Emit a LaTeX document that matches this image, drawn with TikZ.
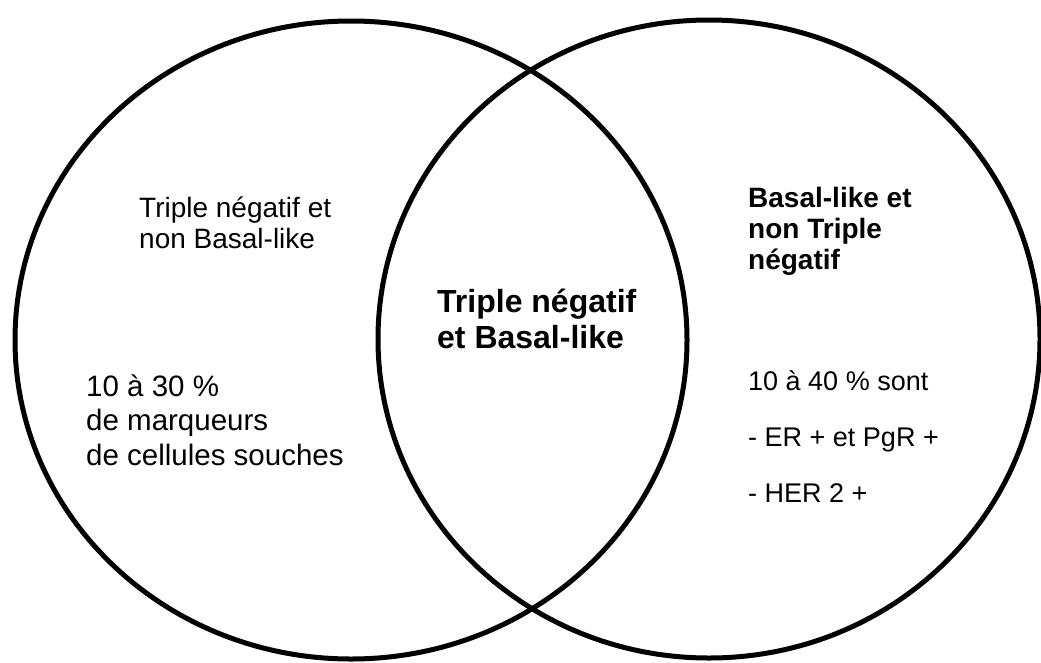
\documentclass[tikz,border=0pt]{standalone}
\usepackage{fontspec}
\setmainfont{Liberation Sans}
\usetikzlibrary{shapes.geometric}
\begin{document}
\begin{tikzpicture}[x=1pt,y=-1pt,
  setellipse/.style={draw=black, line width=5pt, ellipse, inner sep=0pt},
  lbl/.style={anchor=base west, inner sep=0pt, align=left, text=black},
  regtxt/.style={lbl, font=\fontsize{28}{30.5}\selectfont},
  boldtxt/.style={lbl, font=\bfseries\fontsize{28}{31}\selectfont},
  bigtxt/.style={lbl, font=\bfseries\fontsize{32}{36}\selectfont}]
\useasboundingbox (0,0) rectangle (1041,662);
\node[setellipse, minimum width=672pt, minimum height=638pt] (left) at (351,340) {};
\node[setellipse, minimum width=662pt, minimum height=638pt] (right) at (709,339) {};
% base anchor = baseline of the last line
\node[regtxt] (lt) at (139,248) {Triple négatif et\\non Basal-like};
\node[regtxt, font=\fontsize{29.5}{34.5}\selectfont] (lb) at (86,465) {10 à 30 \%\\de marqueurs\\de cellules souches};
\node[bigtxt] (mid) at (437,348) {Triple négatif\\et Basal-like};
\node[boldtxt] (rt) at (748,269) {Basal-like et\\non Triple\\négatif};
\node[regtxt, font=\fontsize{27}{56}\selectfont] (rb) at (748,502) {10 à 40 \% sont\\- ER + et PgR +\\- HER 2 +};
\end{tikzpicture}
\end{document}
